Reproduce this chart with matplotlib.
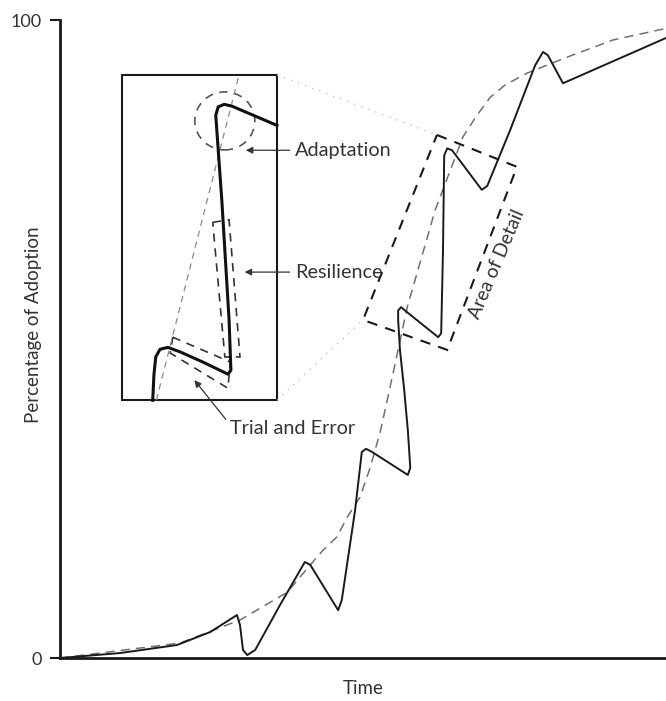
import matplotlib
matplotlib.use('Agg')
import matplotlib.pyplot as plt
from matplotlib.patches import Ellipse, Polygon, Rectangle

plt.rcParams['font.family'] = ['Lato', 'DejaVu Sans']

# main adoption curve (solid)
main_x = [0, 9.9, 19.3, 24.8, 29.2, 29.7, 30.2, 30.9, 32.2, 36.3, 40.4, 41.3,
          45.9, 46.5, 48.7, 49.8, 50.5, 51.5, 57.4, 57.8, 57.4, 56.8, 56.1, 55.8,
          55.8, 56.3, 56.9, 62.4, 62.9, 63.2, 63.4, 63.9, 64.7, 69.6, 70.5, 74.3,
          78.4, 79.7, 80.5, 83.0, 100]
main_y = [0, 0.78, 2.04, 4.08, 6.74, 5.17, 1.25, 0.47, 1.25, 8.3, 15.05, 14.6,
          7.5, 9.1, 23.2, 32.3, 32.8, 32.3, 28.7, 29.8, 35.7, 42.0, 48.3, 53.0,
          54.5, 55.0, 54.5, 50.3, 50.9, 63.9, 78.8, 79.9, 79.6, 73.4, 74.0, 82.8,
          92.9, 95.0, 94.5, 90.1, 97.2]

# smooth trend (dashed)
trend_x = [0, 19.8, 29.7, 37.5, 41.3, 43.4, 45.7, 47.4, 49.5, 51.2, 52.8, 54.0,
           57.3, 61.9, 66.5, 68.8, 71.0, 73.4, 77.1, 83.7, 91.3, 100]
trend_y = [0, 2.35, 5.96, 10.3, 14.6, 16.9, 19.0, 22.1, 25.2, 29.9, 35.3, 40.4,
           55.0, 70.2, 81.7, 85.1, 87.9, 89.8, 91.7, 94.2, 96.9, 98.7]

# magnified curve inside the detail box
zoom_x = [15.3, 15.5, 15.8, 16.5, 17.8, 19.8, 23.8, 27.7, 28.2, 27.9, 26.7, 25.7,
          26.1, 27.1, 28.4, 35.8]
zoom_y = [40.4, 44.4, 47.2, 48.4, 48.7, 48.0, 46.3, 44.5, 45.1, 53.0, 71.8, 85.1,
          86.4, 86.8, 86.5, 83.5]
zoom_trend_x = [15.9, 29.4]
zoom_trend_y = [40.4, 90.9]

inset_box = (10.2, 40.4, 25.6, 51.0)  # x, y, w, h
detail_box = [(62.2, 82.0), (75.4, 77.0), (63.9, 48.3), (50.0, 53.0)]
resilience_box = [(25.2, 68.3), (27.9, 68.7), (29.7, 47.2), (27.2, 47.2)]
trial_box = [(18.6, 50.3), (28.1, 46.4), (27.7, 42.3), (18.2, 47.8)]

fig = plt.figure(figsize=(6.66, 7.01), dpi=100)
ax = fig.add_axes([0.0901, 0.0613, 0.9099, 0.910])

ax.plot(trend_x, trend_y, color='#707070', lw=1.1, linestyle=(0, (6, 4)))
ax.plot(main_x, main_y, color='#1a1a1a', lw=1.4)

# inset
ax.add_patch(Rectangle(inset_box[:2], inset_box[2], inset_box[3], fill=False,
                       ec='#1a1a1a', lw=1.5))
ax.plot(zoom_trend_x, zoom_trend_y, color='#8a8a8a', lw=0.9, linestyle=(0, (5, 4)))
ax.plot(zoom_x, zoom_y, color='#111111', lw=2.2)
ax.add_patch(Ellipse((27.2, 84.2), 9.9, 9.1, fill=False, ec='#555555', lw=1.2,
                     linestyle=(0, (5, 4))))
ax.add_patch(Polygon(resilience_box, closed=True, fill=False, ec='#333333', lw=1.2,
                     linestyle=(0, (5, 4))))
ax.add_patch(Polygon(trial_box, closed=True, fill=False, ec='#333333', lw=1.2,
                     linestyle=(0, (5, 4))))

# area of detail
ax.add_patch(Polygon(detail_box, closed=True, fill=False, ec='#1a1a1a', lw=1.5,
                     linestyle=(0, (5, 4))))
ax.plot([35.8, 62.2], [91.4, 82.0], color='#b8b8b8', lw=0.9, linestyle=(0, (1, 5)))
ax.plot([35.8, 50.0], [40.4, 53.0], color='#b8b8b8', lw=0.9, linestyle=(0, (1, 5)))
ax.text(72.0, 61.8, 'Area of Detail', rotation=67, ha='center', va='center',
        fontsize=13.8, color='#333333')

# annotations
arrow = dict(arrowstyle='-|>', color='#333333', lw=0.9, mutation_scale=10)
ax.annotate('Adaptation', xy=(30.2, 79.6), xytext=(38.8, 79.6), va='center',
            fontsize=14.3, color='#333333', arrowprops=arrow)
ax.annotate('Resilience', xy=(30.0, 60.5), xytext=(38.8, 60.5), va='center',
            fontsize=14.3, color='#333333', arrowprops=arrow)
ax.annotate('Trial and Error', xy=(21.9, 43.9), xytext=(28.1, 36.0), va='center',
            fontsize=14.3, color='#333333',
            arrowprops=dict(arrow, relpos=(0, 0.7)))

ax.set_xlim(0, 100)
ax.set_ylim(0, 100)
ax.set_xticks([])
ax.set_yticks([0, 100])
ax.tick_params(axis='y', length=7, width=1.5, pad=6, labelsize=13, colors='#1a1a1a',
               labelcolor='#333333')
for s in ['top', 'right']:
    ax.spines[s].set_visible(False)
for s in ['left', 'bottom']:
    ax.spines[s].set_linewidth(2)
    ax.spines[s].set_color('#1a1a1a')
ax.set_ylabel('Percentage of Adoption', fontsize=13.5, color='#333333')
ax.yaxis.set_label_coords(-0.030, 0.523)
ax.set_xlabel('Time', fontsize=13.5, color='#333333', labelpad=16)

fig.savefig('out.png', dpi=100)
